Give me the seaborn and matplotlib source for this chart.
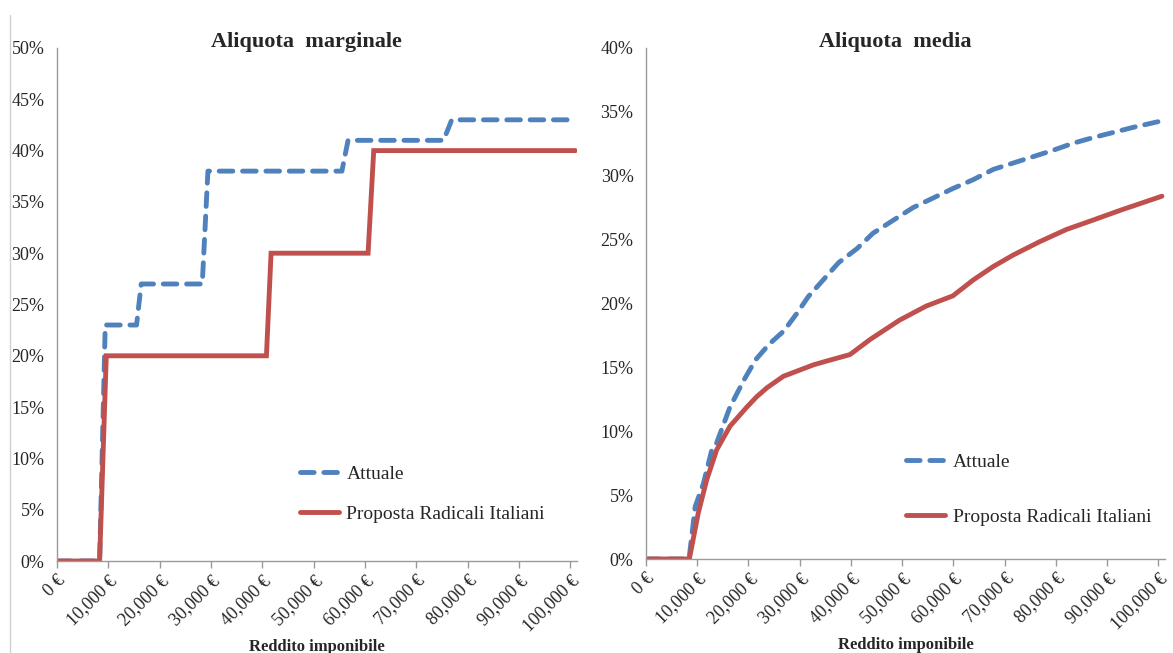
import matplotlib
matplotlib.use("Agg")
import matplotlib.pyplot as plt
import matplotlib.ticker as mticker
from matplotlib.lines import Line2D
import seaborn as sns
import pandas as pd

# ---------------- data ----------------
series_names = ["Attuale", "Proposta Radicali Italiani"]

# Left panel: marginal rate (%), breakpoints
marg_attuale_x = [0, 8300, 9400, 15500, 16400, 28300, 29400, 55500, 56700, 75300, 76900, 101000]
marg_attuale_y = [0, 0, 23, 23, 27, 27, 38, 38, 41, 41, 43, 43]
marg_proposta_x = [0, 8300, 9600, 40800, 41700, 60600, 61700, 101000]
marg_proposta_y = [0, 0, 20, 20, 30, 30, 40, 40]

# Right panel: average rate (%)
media_attuale_x = [0, 8400, 9600, 11200, 12850, 13800, 16400, 19100, 21400, 24000, 26900, 29400,
                   31700, 34600, 37600, 41200, 44300, 48200, 52100, 56000, 59900, 63900, 67800,
                   71700, 75600, 79500, 83400, 87400, 91300, 95200, 100700]
media_attuale_y = [0, 0, 4.1, 5.9, 8.55, 9.1, 11.9, 14.0, 15.6, 16.8, 17.85, 19.2,
                   20.55, 21.85, 23.2, 24.3, 25.5, 26.5, 27.5, 28.25, 29.0, 29.7, 30.5,
                   31.0, 31.5, 32.0, 32.55, 33.0, 33.4, 33.8, 34.3]
media_proposta_x = [0, 8460, 10200, 11850, 13800, 16400, 19700, 21600, 23600, 26800, 32700, 35300,
                    39800, 43800, 49500, 54700, 59900, 63900, 67800, 71700, 76900, 82100, 87400,
                    92600, 100700]
media_proposta_y = [0, 0, 3.6, 6.2, 8.55, 10.4, 11.9, 12.7, 13.4, 14.3, 15.2, 15.5,
                    16.0, 17.2, 18.7, 19.8, 20.6, 21.85, 22.9, 23.8, 24.85, 25.8, 26.55,
                    27.3, 28.4]

x_ticks = [0, 10000, 20000, 30000, 40000, 50000, 60000, 70000, 80000, 90000, 100000]
x_tick_labels = ["0 €", "10,000 €", "20,000 €", "30,000 €", "40,000 €", "50,000 €",
                 "60,000 €", "70,000 €", "80,000 €", "90,000 €", "100,000 €"]
left_y_ticks = [0, 5, 10, 15, 20, 25, 30, 35, 40, 45, 50]
right_y_ticks = [0, 5, 10, 15, 20, 25, 30, 35, 40]

titles = ["Aliquota  marginale", "Aliquota  media"]
x_label = "Reddito imponibile"

# ---------------- style ----------------
sns.set_theme(style="white")
plt.rcParams["font.family"] = ["Liberation Serif", "DejaVu Serif"]

BLUE = "#4F81BD"
RED = "#C0504D"
LW = 3.5
DASH = (2.8, 2.0)
palette = {series_names[0]: BLUE, series_names[1]: RED}
dashes = {series_names[0]: DASH, series_names[1]: ""}


def make_df(ax_, ay_, px_, py_):
    d1 = pd.DataFrame({"x": ax_, "y": ay_, "serie": series_names[0]})
    d2 = pd.DataFrame({"x": px_, "y": py_, "serie": series_names[1]})
    return pd.concat([d1, d2], ignore_index=True)


fig = plt.figure(figsize=(11.73, 6.53), dpi=100)
W, H = 1173, 653
ax1 = fig.add_axes([57 / W, 1 - 561 / H, 520 / W, 513 / H])
ax2 = fig.add_axes([646 / W, 1 - 559 / H, 519 / W, 511 / H])

panels = [
    (ax1, make_df(marg_attuale_x, marg_attuale_y, marg_proposta_x, marg_proposta_y),
     left_y_ticks, 50, titles[0], (0.452, 0.201), 1.15),
    (ax2, make_df(media_attuale_x, media_attuale_y, media_proposta_x, media_proposta_y),
     right_y_ticks, 40, titles[1], (0.486, 0.222), 1.9),
]

for ax, df, yt, ymax, title, legpos, lspace in panels:
    sns.lineplot(data=df, x="x", y="y", hue="serie", style="serie", palette=palette,
                 dashes=dashes, estimator=None, sort=False, linewidth=LW, ax=ax,
                 legend=True)
    for ln in ax.lines:
        ln.set_dash_capstyle("round")
        ln.set_solid_capstyle("round")
        ln.set_solid_joinstyle("miter")
    ax.set_xlim(0, 101300)
    ax.set_ylim(0, ymax)
    ax.set_xticks(x_ticks)
    ax.set_xticklabels(x_tick_labels, rotation=45, ha="right", va="top",
                       rotation_mode="anchor", fontsize=13)
    ax.set_yticks(yt)
    ax.yaxis.set_major_formatter(mticker.FuncFormatter(lambda v, p: f"{int(v)}%"))
    ax.tick_params(axis="y", length=0, pad=9, labelsize=13)
    ax.tick_params(axis="x", length=5, width=1, color="#9a9a9a", pad=3, direction="out",
                   bottom=True)
    ax.set_xlabel(x_label, fontsize=12, fontweight="bold", labelpad=3)
    ax.set_ylabel("")
    for s in ["top", "right"]:
        ax.spines[s].set_visible(False)
    for s in ["left", "bottom"]:
        ax.spines[s].set_color("#9a9a9a")
        ax.spines[s].set_linewidth(1)
    ax.text(0.48, 1.0 + 6 / 513, title, transform=ax.transAxes, ha="center", va="center",
            fontsize=16, fontweight="bold")
    handles = [Line2D([], [], color=BLUE, lw=LW, dashes=DASH, dash_capstyle="round"),
               Line2D([], [], color=RED, lw=LW, solid_capstyle="round")]
    ax.legend(handles, series_names, loc="upper left", bbox_to_anchor=legpos,
              frameon=False, fontsize=14, handlelength=2.0, handletextpad=0.4,
              labelspacing=lspace, borderaxespad=0)

# faint border line at the far left
fig.add_artist(Line2D([10 / W, 10 / W], [0, 1 - 15 / H], transform=fig.transFigure,
                      color="#d0d0d0", lw=1))

fig.savefig("out.png", dpi=100, facecolor="white")
